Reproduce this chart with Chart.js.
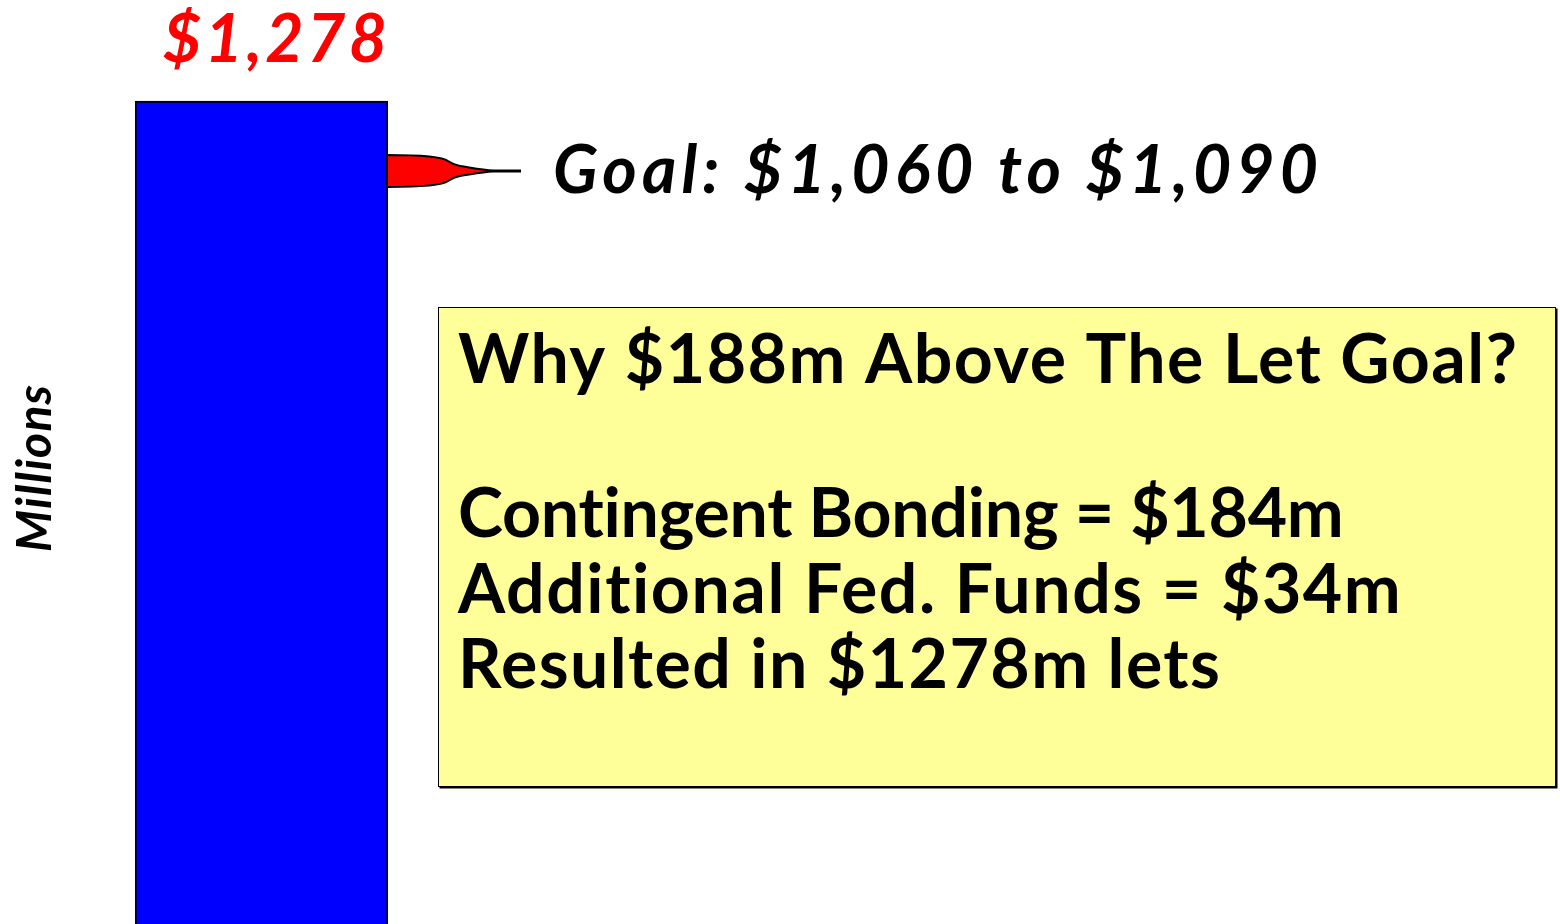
<!DOCTYPE html>
<html>
<head>
<meta charset="utf-8">
<title>Lets vs Goal</title>
<script src="https://cdn.jsdelivr.net/npm/chart.js@4.4.1/dist/chart.umd.min.js"></script>
<style>
    body { margin: 0; background: #fff; }
    #wrap { position: relative; width: 1560px; height: 924px; }
</style>
</head>
<body>
<div id="wrap"><canvas id="letChart"></canvas></div>
<script>
// data
const categories = ['Lets'];
const letValues = [1278];           // millions
const goalRange = [1060, 1090];     // millions
const axisRange = [-1109, 1571];    // hidden value axis, picked so the goal sits beside the bar
const axisTitle = 'Millions';
const noteLines = [
    'Why $188m Above The Let Goal?',
    '',
    'Contingent Bonding = $184m',
    'Additional Fed. Funds = $34m',
    'Resulted in $1278m lets'
];

const FONT = "'Comic Sans MS', Lato, 'DejaVu Sans', sans-serif";

function money(v) {
    return '$' + v.toLocaleString('en-US');
}

// draw text left aligned, stretched/squeezed with letter spacing to a given width
function fitText(ctx, text, x, y, width) {
    ctx.letterSpacing = '0px';
    const w = ctx.measureText(text).width;
    if (text.length > 1) {
        ctx.letterSpacing = ((width - w) / (text.length - 1)) + 'px';
    }
    ctx.textAlign = 'left';
    ctx.fillText(text, x, y);
    ctx.letterSpacing = '0px';
}

const overlayPlugin = {
    id: 'overlay',
    afterDatasetsDraw(chart) {
        const ctx = chart.ctx;
        const bar = chart.getDatasetMeta(0).data[0];
        const yScale = chart.scales.y;
        const right = bar.x + bar.width / 2;
        const left = bar.x - bar.width / 2;
        ctx.save();
        ctx.textBaseline = 'alphabetic';

        // value label above the bar
        ctx.fillStyle = '#ff0000';
        ctx.font = 'italic bold 66px ' + FONT;
        fitText(ctx, money(letValues[0]), left + 28, bar.y - 39, 224);

        // goal pointer
        const yMid = yScale.getPixelForValue((goalRange[0] + goalRange[1]) / 2);
        const h = 16;
        ctx.beginPath();
        ctx.moveTo(right - 1, yMid - h);
        ctx.bezierCurveTo(right + 30, yMid - h, right + 55, yMid - h + 2, right + 60, yMid - h + 6);
        ctx.bezierCurveTo(right + 63, yMid - 8, right + 66, yMid - 6, right + 72, yMid - 5);
        ctx.bezierCurveTo(right + 85, yMid - 3, right + 95, yMid - 1, right + 105, yMid - 0.5);
        ctx.lineTo(right + 132, yMid - 0.5);
        ctx.lineTo(right + 132, yMid + 0.5);
        ctx.lineTo(right + 105, yMid + 0.5);
        ctx.bezierCurveTo(right + 95, yMid + 1, right + 85, yMid + 3, right + 72, yMid + 5);
        ctx.bezierCurveTo(right + 66, yMid + 6, right + 63, yMid + 8, right + 60, yMid + h - 6);
        ctx.bezierCurveTo(right + 55, yMid + h - 2, right + 30, yMid + h, right - 1, yMid + h);
        ctx.closePath();
        ctx.fillStyle = '#ff0000';
        ctx.fill();
        ctx.strokeStyle = '#000';
        ctx.lineWidth = 2;
        ctx.stroke();

        ctx.fillStyle = '#000';
        ctx.font = 'italic bold 66px ' + FONT;
        fitText(ctx, 'Goal: ' + money(goalRange[0]) + ' to ' + money(goalRange[1]), 553, yMid + 22, 765);

        // note box
        const bx = 438.5, by = 307.5, bw = 1117, bh = 479;
        ctx.fillStyle = '#ffff99';
        ctx.fillRect(bx, by, bw, bh);
        ctx.strokeStyle = '#000';
        ctx.lineWidth = 1;
        ctx.strokeRect(bx, by, bw, bh);
        ctx.lineWidth = 2;
        ctx.beginPath();
        ctx.moveTo(bx + 1, by + bh + 1);
        ctx.lineTo(bx + bw + 1, by + bh + 1);
        ctx.lineTo(bx + bw + 1, by + 1);
        ctx.stroke();

        ctx.fillStyle = '#000';
        ctx.font = 'bold 68px ' + FONT;
        const baselines = [383, 460, 537, 613, 688];
        const widths = [1059, 0, 887, 944, 762];
        noteLines.forEach((line, i) => {
            if (line) fitText(ctx, line, 458, baselines[i], widths[i]);
        });

        // axis title
        ctx.translate(51, 552);
        ctx.rotate(-Math.PI / 2);
        ctx.font = 'italic bold 48px Lato, sans-serif';
        fitText(ctx, axisTitle, 0, 0, 167);
        ctx.restore();
    }
};

const ctx = document.getElementById('letChart').getContext('2d');
const chartInstance = new Chart(ctx, {
    type: 'bar',
    data: {
        labels: categories,
        datasets: [{
            label: 'Lets',
            data: letValues,
            base: axisRange[0],
            backgroundColor: '#0000ff',
            borderColor: '#000000',
            borderWidth: 2,
            borderSkipped: 'start',
            barPercentage: 1,
            categoryPercentage: 1
        }]
    },
    options: {
        responsive: true,
        maintainAspectRatio: false,
        animation: false,
        layout: {
            padding: { left: 135, right: 1172, top: 0, bottom: 0 }
        },
        plugins: {
            legend: { display: false },
            tooltip: { enabled: false }
        },
        scales: {
            x: { display: false },
            y: { display: false, min: axisRange[0], max: axisRange[1] }
        }
    },
    plugins: [overlayPlugin]
});
</script>
</body>
</html>
